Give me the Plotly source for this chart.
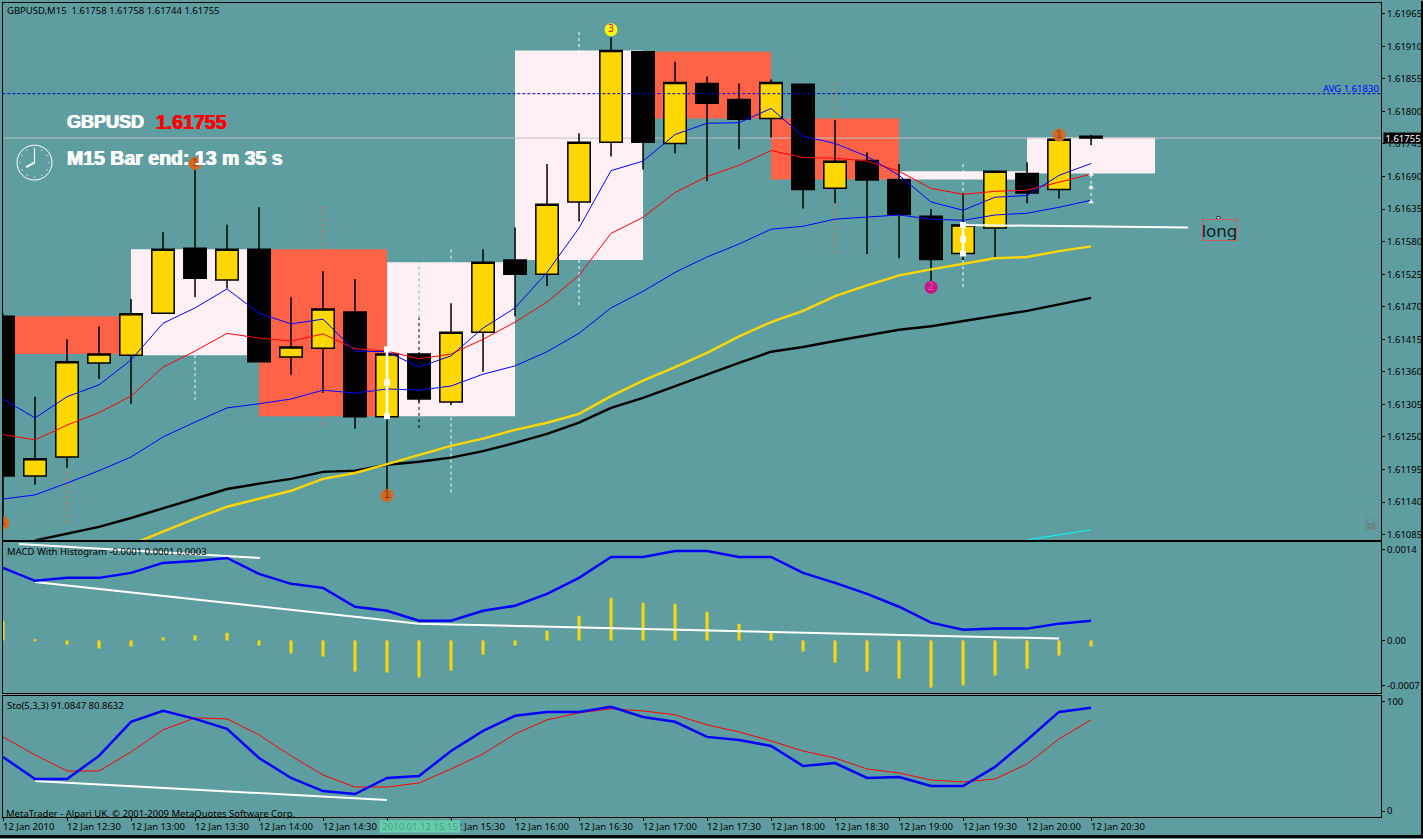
import math
import plotly.graph_objects as go

W, H = 1423, 839
TEAL = "#5F9EA0"; GOLD = "#FFD700"; TOMATO = "#FF6347"; PINK = "#FFF0F5"; MINT = "#66CDAA"
FONT = "Noto Sans"

# ---- data (prices in 1e-5 points) ----
bars = list(range(35))
opens = [161454,161184,161216,161375,161388,161459,161569,161515,161567,161385,161400,161461,161284,161390,161309,161427,161549,161525,161647,161748,161901,161746,161847,161820,161788,161846,161670,161717,161685,161623,161560,161603,161695,161668,161758]
highs = [161458,161318,161415,161437,161483,161596,161712,161609,161638,161486,161530,161517,161398,161393,161476,161567,161604,161711,161763,161925,161901,161884,161859,161847,161854,161846,161785,161731,161711,161635,161662,161700,161714,161756,161760]
lows = [161115,161169,161198,161348,161306,161459,161486,161501,161377,161355,161324,161264,161161,161309,161304,161360,161454,161505,161614,161724,161702,161729,161682,161736,161756,161636,161645,161559,161552,161510,161549,161554,161645,161653,161743]
closes = [161184,161213,161377,161390,161458,161567,161518,161567,161377,161402,161466,161284,161390,161314,161427,161545,161525,161643,161748,161903,161748,161849,161814,161787,161849,161668,161716,161684,161626,161550,161608,161699,161662,161753,161755]

ma_fast = [161314,161282,161318,161338,161380,161442,161468,161500,161459,161441,161449,161395,161394,161368,161387,161434,161468,161528,161603,161700,161716,161761,161780,161781,161805,161758,161746,161724,161692,161647,161633,161655,161658,161692,161712]
ma_red = [161254,161245,161270,161291,161319,161368,161395,161425,161417,161412,161424,161399,161395,161382,161390,161415,161444,161478,161523,161594,161621,161663,161690,161709,161734,161722,161721,161716,161699,161670,161660,161665,161667,161680,161694]
ma_mid = [161145,161152,161172,161193,161216,161250,161275,161299,161306,161314,161329,161324,161331,161329,161336,161356,161370,161394,161425,161468,161496,161528,161554,161576,161601,161606,161618,161621,161625,161618,161616,161625,161628,161638,161650]
ma_gold = [161068,161090,161112,161132,161145,161159,161179,161189,161204,161220,161235,161247,161262,161274,161289,161319,161345,161368,161392,161420,161444,161463,161488,161506,161523,161533,161542,161552,161554,161564,161572]
ma_gold_bars = bars[4:]
ma_black = [161075,161086,161098,161113,161129,161145,161162,161171,161179,161191,161193,161203,161208,161215,161226,161240,161255,161274,161299,161316,161336,161356,161375,161394,161402,161412,161422,161431,161437,161446,161454,161463,161474,161485]
ma_black_bars = bars[1:]
cyan_bars = [32, 33, 34]
cyan_vals = [161076, 161085, 161093]

zone_start = [4, 8, 12, 0, 16, 20, 24, 28, 32]
zone_end = [8, 12, 16, 4, 20, 24, 28, 32, 36]
zone_high = [161567,161567,161545,161454,161903,161901,161788,161699,161756]
zone_low = [161388,161285,161285,161390,161549,161788,161685,161685,161695]
zone_kind = ["pink","red","pink","red","pink","red","red","pink","pink"]

dash_bar = [2, 10, 6, 14, 18, 26, 30, 13, 13, 34]
dash_high = [161459,161641,161567,161567,161938,161854,161711,161452,161545,161695]
dash_low = [161105,161270,161312,161156,161473,161560,161503,161265,161452,161647]
dash_color = [TOMATO, TOMATO, "white", "white", "white", TOMATO, "white", "black", MINT, "white"]

num_bars = [0, 6, 12, 19, 29, 33]
num_price = [161105, 161712, 161151, 161938, 161503, 161760]
num_text = ["1", "1", "1", "3", "2", "1"]
num_fill = ["#D2691E", "#D2691E", "#D2691E", "#FFFF00", "#C71585", "#D2691E"]
num_ink = ["#8B4513", "#8B4513", "#6B3A10", "#C71585", "#E0559B", "#8B4513"]

seg12_bars = [12, 12, 12]; seg12_vals = [161398, 161342, 161285]
seg30_bars = [30, 30, 30]; seg30_vals = [161608, 161584, 161560]
seg34_bars = [34, 34, 34]; seg34_vals = [161694, 161672, 161647]
long_bars = [30, 37.03]; long_vals = [161608, 161604]

macd = [0.001123,0.000923,0.000969,0.000969,0.001046,0.0012,0.00123,0.001277,0.00103,0.000877,0.000815,0.000523,0.000461,0.000308,0.000308,0.000461,0.000538,0.000723,0.000969,0.001292,0.001292,0.001384,0.001384,0.001292,0.001292,0.001046,0.000892,0.000723,0.000523,0.000277,0.000169,0.000185,0.000185,0.000262,0.000308]
hist = [0.000308,0.000015,-0.000062,-0.000123,-0.000092,0.000046,0.000077,0.000123,-0.000077,-0.0002,-0.000246,-0.000477,-0.000492,-0.000569,-0.000461,-0.000215,-0.000077,0.000154,0.000385,0.000662,0.000585,0.000569,0.000446,0.000262,0.000123,-0.000169,-0.000338,-0.000477,-0.000585,-0.000723,-0.000692,-0.000538,-0.000431,-0.000231,-0.000092]
macd_tl1_x = [0.5, 8.03]; macd_tl1_y = [0.001492, 0.001277]
macd_tl2_x = [1, 13, 33]; macd_tl2_y = [0.000907, 0.000262, 0.000031]

sto_k = [49.5,29.4,29.4,50.5,81.7,91.7,84.4,75.2,48.6,30.3,18.3,15.6,30.3,32.1,55,73.4,87.2,90.8,90.8,95.4,86.2,81.7,67.9,65.1,59.6,41.3,44,30.3,31.2,22.9,22.9,40.4,65.1,90.8,94.5]
sto_d = [67.9,51.4,36.7,36.7,54.1,74.3,85.3,84.4,69.7,50.5,33,22,22,25.7,38.5,52.3,70.6,83.5,89.9,93.6,91.7,88.1,78.9,72.5,64.2,55,48.6,38.5,34.9,28.4,26.6,29.4,43.1,66.1,83.5]
sto_tl_x = [1, 12]; sto_tl_y = [27.5, 10.1]

price_ticks = [161965,161910,161855,161800,161745,161690,161635,161580,161525,161470,161415,161360,161305,161250,161195,161140,161085]
macd_ticks = [0.0014, 0, -0.0007]; macd_labels = ["0.0014", "0.00", "-0.0007"]
sto_ticks = [100, 0]; sto_labels = ["100", "0"]
time_tick_bars = list(range(0, 35, 2))
time_label_bars = [b for b in time_tick_bars if b != 12]
time_labels = ["12 Jan 2010","12 Jan 12:30","12 Jan 13:00","12 Jan 13:30","12 Jan 14:00","12 Jan 14:30","12 Jan 15:30","12 Jan 16:00","12 Jan 16:30","12 Jan 17:00","12 Jan 17:30","12 Jan 18:00","12 Jan 18:30","12 Jan 19:00","12 Jan 19:30","12 Jan 20:00","12 Jan 20:30"]

LAST = 1.61755; AVG = 1.61830

# ---- helpers ----
pr = lambda a: [v / 1e5 for v in a]
px = lambda x: x / W
py = lambda y: 1 - y / H

fig = go.Figure()
fig.add_trace(go.Candlestick(x=bars, open=pr(opens), high=pr(highs), low=pr(lows), close=pr(closes), xaxis="x", yaxis="y",
    whiskerwidth=0, showlegend=False,
    increasing=dict(fillcolor=GOLD, line=dict(color="black", width=1.5)),
    decreasing=dict(fillcolor="black", line=dict(color="black", width=1.5))))

def line(x, y, color, width, ax="", **kw):
    fig.add_trace(go.Scatter(x=x, y=y, mode="lines", line=dict(color=color, width=width, **kw), xaxis="x" + ax, yaxis="y" + ax, showlegend=False, hoverinfo="skip"))

line(ma_black_bars, pr(ma_black), "black", 2.4)
line(ma_gold_bars, pr(ma_gold), GOLD, 2.4)
line(bars, pr(ma_mid), "#0000FF", 1)
line(bars, pr(ma_red), "#FF0000", 1)
line(bars, pr(ma_fast), "#0000FF", 1)
line(cyan_bars, pr(cyan_vals), "#00FFFF", 1)
line(long_bars, pr(long_vals), "white", 2)
for bx, by, sz, wd in [(seg12_bars, seg12_vals, 6, 2.5), (seg30_bars, seg30_vals, 6, 2.5)]:
    fig.add_trace(go.Scatter(x=bx, y=pr(by), mode="lines+markers", line=dict(color="white", width=wd),
        marker=dict(symbol="square", size=sz, color="white"), showlegend=False, hoverinfo="skip"))
fig.add_trace(go.Scatter(x=seg34_bars, y=pr(seg34_vals), mode="markers", marker=dict(symbol="triangle-up", size=5, color="white"), showlegend=False, hoverinfo="skip"))
fig.add_trace(go.Scatter(x=num_bars, y=pr(num_price), mode="markers+text", text=num_text, textposition="middle center",
    textfont=dict(family="DejaVu Sans", size=10, color=num_ink), marker=dict(size=13, color=num_fill), showlegend=False, hoverinfo="skip"))

fig.add_trace(go.Bar(x=bars, y=hist, width=3 / 32, marker=dict(color=GOLD, line=dict(width=0)), xaxis="x2", yaxis="y2", showlegend=False))
line(macd_tl1_x, macd_tl1_y, "white", 2, "2")
line(macd_tl2_x, macd_tl2_y, "white", 2, "2")
line(bars, macd, "#0000FF", 2.5, "2")

line(sto_tl_x, sto_tl_y, "white", 2, "3")
line(bars, sto_d, "#FF0000", 1, "3")
line(bars, sto_k, "#0000FF", 2.5, "3")

# ---- shapes ----
shapes = []
for x0, x1, hi, lo, k in zip(zone_start, zone_end, zone_high, zone_low, zone_kind):
    shapes.append(dict(type="rect", xref="x", yref="y", x0=x0, x1=x1, y0=lo / 1e5, y1=hi / 1e5, layer="below", line=dict(width=0), fillcolor=PINK if k == "pink" else TOMATO))
for b, hi, lo, c in zip(dash_bar, dash_high, dash_low, dash_color):
    shapes.append(dict(type="line", xref="x", yref="y", x0=b, x1=b, y0=lo / 1e5, y1=hi / 1e5, layer="below", line=dict(color=c, width=1, dash="3px,3px")))
shapes.append(dict(type="line", xref="x", yref="y", x0=-0.02, x1=43.06, y0=LAST, y1=LAST, layer="below", line=dict(color="#C0C0C0", width=1)))
shapes.append(dict(type="line", xref="x", yref="y", x0=-0.02, x1=43.06, y0=AVG, y1=AVG, layer="above", line=dict(color="#0000C0", width=1, dash="3px,2px")))

def pline(x0, y0, x1, y1, color="white", w=1):
    shapes.append(dict(type="line", xref="paper", yref="paper", x0=px(x0), x1=px(x1), y0=py(y0), y1=py(y1), line=dict(color=color, width=w)))

cx, cy, r = 34.5, 162, 17.5
shapes.append(dict(type="circle", xref="paper", yref="paper", x0=px(cx - r), x1=px(cx + r), y0=py(cy + r), y1=py(cy - r), line=dict(color="white", width=1)))
for h in range(12):
    a = math.radians(h * 30)
    dx, dy = 14.5 * math.sin(a), 14.5 * math.cos(a)
    pline(cx + dx - 0.5, cy - dy, cx + dx + 0.5, cy - dy)
pline(cx, cy, cx, 148, w=1.2)
pline(cx, cy, 26, 166.5, w=2)
# window edges
shapes.append(dict(type="rect", xref="paper", yref="paper", x0=px(1421), x1=1, y0=0, y1=1, line=dict(width=0), fillcolor="black"))
shapes.append(dict(type="rect", xref="paper", yref="paper", x0=0, x1=1, y0=0, y1=py(836), line=dict(width=0), fillcolor="black"))
# long label pin
shapes.append(dict(type="rect", xref="paper", yref="paper", x0=px(1217), x1=px(1220), y0=py(218.5), y1=py(216), line=dict(color="black", width=0.7), fillcolor="white"))

# ---- annotations ----
anns = []
def txt(x, y, s, size=9.5, color="black", family=FONT, xanchor="left", shadow=None, **kw):
    f = dict(family=family, size=size, color=color)
    if shadow:
        f["shadow"] = shadow
    anns.append(dict(xref="paper", yref="paper", x=px(x), y=py(y), text=s, showarrow=False, xanchor=xanchor, yanchor="middle",
        font=f, borderpad=0, **kw))

txt(6, 10, "GBPUSD,M15&nbsp;&nbsp;1.61758 1.61758 1.61744 1.61755")
txt(6, 552, "MACD With Histogram -0.0001 0.0001 0.0003")
txt(6, 706, "Sto(5,3,3) 91.0847 80.8632")
txt(5, 814, "MetaTrader - Alpari UK, © 2001-2009 MetaQuotes Software Corp.")
IMP = "Liberation Sans"
WS = "0.5px 0 0 white, -0.5px 0 0 white"
RS = "0.5px 0 0 red, -0.5px 0 0 red"
txt(66, 121.5, "<b>GBPUSD</b>", size=18, color="white", family=IMP, shadow=WS)
txt(155, 121.5, "<b>1.61755</b>", size=19.5, color="#FF0000", family=IMP, shadow=RS)
txt(66, 157, "<b>M15 Bar end: 13 m 35 s</b>", size=19.5, color="white", family=IMP, shadow=WS)
txt(1380, 87.5, "AVG 1.61830", color="#0000FF", xanchor="right")
txt(1370, 525, "☠", size=17, color="#707070", family="DejaVu Sans", xanchor="center")
anns.append(dict(xref="paper", yref="paper", x=px(1202), y=py(230), text="long", showarrow=False, xanchor="left", yanchor="middle",
    width=33, height=20, align="center", bordercolor="#CD5C5C", borderwidth=1, borderpad=0, font=dict(family=FONT, size=17, color="#062020")))
for b, lab in zip(time_label_bars, time_labels):
    anns.append(dict(xref="x3", yref="paper", x=b, xshift=-1.5, y=py(827.5), text=lab, showarrow=False, xanchor="left", yanchor="middle", borderpad=0, font=dict(family=FONT, size=9.5, color="black")))
anns.append(dict(xref="paper", yref="paper", x=px(379), y=py(827.5), text="2010.01.12 15:15", showarrow=False, xanchor="left", yanchor="middle",
    width=80, height=11, bgcolor=MINT, borderpad=0, font=dict(family=FONT, size=9.5, color="#4A9A8A")))
anns.append(dict(xref="paper", yref="y", x=px(1383), y=LAST, text="1.61755", showarrow=False, xanchor="left", yanchor="middle",
    width=38, height=10, bgcolor="black", borderpad=0, font=dict(family=FONT, size=9.5, color="white")))

xrange = [-0.016, 43.06]
xbase = dict(domain=[px(2.5), px(1381)], range=xrange, showgrid=False, zeroline=False, showline=True, linecolor="black", linewidth=1.2, mirror=True, showticklabels=False, ticks="", rangeslider=dict(visible=False))
ybase = dict(side="right", showgrid=False, zeroline=False, showline=True, linecolor="black", linewidth=1.2, mirror=True, ticks="outside", ticklen=3, tickcolor="black", tickfont=dict(family=FONT, size=9.5, color="black"))

fig.update_layout(width=W, height=H, margin=dict(l=0, r=0, t=0, b=0), autosize=False, paper_bgcolor=TEAL, plot_bgcolor=TEAL,
    barmode="overlay", boxgap=0.3, boxgroupgap=0, showlegend=False, shapes=shapes, annotations=anns,
    xaxis=dict(xbase, anchor="y"),
    xaxis2=dict(xbase, anchor="y2"),
    xaxis3=dict(xbase, anchor="y3", ticks="outside", ticklen=3, tickcolor="black", tickmode="array", tickvals=time_tick_bars),
    yaxis=dict(ybase, anchor="x", domain=[py(540), py(2.5)], range=[1.610763, 1.619824], tickmode="array", tickvals=pr(price_ticks), ticktext=["%.5f" % (v / 1e5) for v in price_ticks]),
    yaxis2=dict(ybase, anchor="x2", domain=[py(694), py(542.5)], range=[-0.000815, 0.00152], tickmode="array", tickvals=macd_ticks, ticktext=macd_labels),
    yaxis3=dict(ybase, anchor="x3", domain=[py(818), py(696.5)], range=[-5.5, 105.5], tickmode="array", tickvals=sto_ticks, ticktext=sto_labels))

fig.write_html("out.html", config=dict(displayModeBar=False), post_script="document.body.style.margin='0';document.body.style.overflow='hidden';")
